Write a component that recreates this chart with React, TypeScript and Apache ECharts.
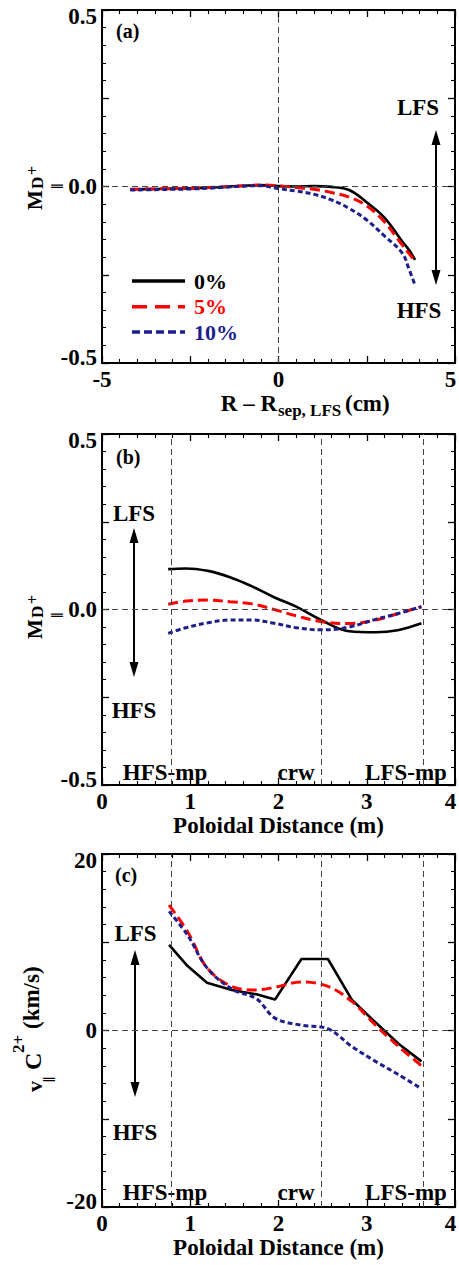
import React, { useEffect, useRef } from 'react';
import * as echarts from 'echarts';

// ---------- data ----------
// panel (a): M|| of D+ vs R - Rsep,LFS (cm)
const aX = [-4.2, -3.5, -3, -2.5, -2, -1.5, -1, -0.5, 0, 0.5, 1, 1.5, 2, 2.5, 3, 3.5, 3.7, 3.87];
const a0 = [-0.008, -0.007, -0.006, -0.005, -0.003, -0.001, 0.002, 0.004, 0.001, 0.0, 0.001, -0.001, -0.01, -0.045, -0.088, -0.155, -0.18, -0.208];
const a5 = [-0.008, -0.007, -0.006, -0.005, -0.003, -0.001, 0.002, 0.004, 0.002, -0.003, -0.008, -0.017, -0.03, -0.055, -0.1, -0.165, -0.19, -0.212];
const a10 = [-0.01, -0.009, -0.008, -0.007, -0.005, -0.002, 0.001, 0.002, -0.006, -0.013, -0.022, -0.038, -0.062, -0.095, -0.14, -0.188, -0.235, -0.28];

// panel (b): M|| of D+ vs poloidal distance (m)
const bX = [0.75, 0.95, 1.2, 1.45, 1.7, 1.95, 2.2, 2.5, 2.8, 3.1, 3.35, 3.62];
const b0 = [0.115, 0.117, 0.11, 0.092, 0.066, 0.035, 0.008, -0.032, -0.062, -0.065, -0.059, -0.039];
const b5 = [0.015, 0.024, 0.027, 0.022, 0.016, 0.0, -0.018, -0.035, -0.04, -0.03, -0.012, 0.008];
const b10 = [-0.068, -0.052, -0.038, -0.03, -0.03, -0.039, -0.052, -0.058, -0.05, -0.028, -0.012, 0.008];

// panel (c): v|| of C2+ (km/s) vs poloidal distance (m)
const cX = [0.76, 0.97, 1.19, 1.47, 1.75, 1.96, 2.26, 2.56, 2.83, 3.1, 3.36, 3.62];
const c0 = [9.7, 7.3, 5.4, 4.6, 4.1, 3.5, 8.1, 8.1, 3.5, 0.9, -1.5, -3.5];
const c5 = [14.2, 11.2, 7.1, 5.0, 4.6, 4.9, 5.5, 5.0, 3.3, 0.6, -1.8, -4.0];
const c10 = [13.5, 10.8, 7.1, 4.7, 3.6, 1.4, 0.6, 0.2, -1.8, -3.5, -5.0, -6.6];

// reference positions along the poloidal distance
const refX = [0.79, 2.49, 3.64];
const refNames = ['HFS-mp', 'crw', 'LFS-mp'];
const legendNames = ['0%', '5%', '10%'];

// ---------- styling ----------
const FONT = 'Liberation Serif, Times New Roman, serif';
const BLACK = '#000000';
const RED = '#ff0000';
const NAVY = '#1e1e8a';
const COLORS = [BLACK, RED, NAVY];
const DASHES: any[] = ['solid', [10, 5], [5, 3]];
const WIDTHS = [2.6, 3, 3];

const pairs = (xs: number[], ys: number[]) => xs.map((x, i) => [x, ys[i]]);

const LS = {
  fontSize: 23,
  fontWeight: 'bold' as const,
  fontFamily: FONT,
  color: BLACK,
};

const edgeRich = {
  t: { ...LS, padding: [13, 0, 0, 0] },
  b: { ...LS, padding: [0, 0, 12, 0] },
  n: { ...LS },
};

const xRich = {
  r: { ...LS, padding: [0, 9, 0, 0] },
  n: { ...LS },
};

const tickCommon = (grid: number, min: number, max: number, interval: number) => ({
  type: 'value' as const,
  gridIndex: grid,
  min,
  max,
  interval,
  splitLine: { show: false },
  axisLine: { show: true, onZero: false, lineStyle: { color: BLACK, width: 2 } },
  axisTick: { show: true, inside: true, length: 7, lineStyle: { color: BLACK, width: 1.3 } },
  minorTick: { show: true, splitNumber: 5, length: 4, lineStyle: { color: BLACK, width: 1.1 } },
  minorSplitLine: { show: false },
});

function xAxes(grid: number, min: number, max: number, interval: number, fmt: (v: number) => string, name?: string) {
  const common = tickCommon(grid, min, max, interval);
  const wrap = (v: number) => {
    const s = fmt(v);
    if (!s) return '';
    return Math.abs(v - max) < 1e-9 ? '{r|' + s + '}' : '{n|' + s + '}';
  };
  return [
    {
      ...common,
      position: 'bottom',
      axisLabel: { ...LS, margin: 5, formatter: wrap, rich: xRich },
      name: name || '',
      nameLocation: 'middle',
      nameGap: 29,
      nameTextStyle: { ...LS },
    },
    { ...common, position: 'top', axisLabel: { show: false } },
  ];
}

function yAxes(grid: number, min: number, max: number, interval: number, fmt: (v: number) => string) {
  const common = tickCommon(grid, min, max, interval);
  const wrap = (v: number) => {
    const s = fmt(v);
    if (!s) return '';
    if (Math.abs(v - max) < 1e-9) return '{t|' + s + '}';
    if (Math.abs(v - min) < 1e-9) return '{b|' + s + '}';
    return '{n|' + s + '}';
  };
  return [
    { ...common, position: 'left', axisLabel: { ...LS, margin: 5, formatter: wrap, rich: edgeRich } },
    { ...common, position: 'right', axisLabel: { show: false } },
  ];
}

const refLineStyle = { type: [6, 4] as number[], color: '#444', width: 1 };

function seriesFor(panel: number, xs: number[], ys: number[][], refs: any[], smoothFlags: (number | boolean)[]) {
  return ys.map((y, i) => ({
    type: 'line',
    xAxisIndex: panel * 2,
    yAxisIndex: panel * 2,
    data: pairs(xs, y),
    showSymbol: false,
    symbol: 'none',
    smooth: smoothFlags[i],
    lineStyle: { color: COLORS[i], width: WIDTHS[i], type: DASHES[i] },
    itemStyle: { color: COLORS[i] },
    emphasis: { disabled: true },
    z: 3 + i,
    markLine:
      i === 0
        ? {
            silent: true,
            symbol: ['none', 'none'],
            label: { show: false },
            lineStyle: refLineStyle,
            emphasis: { disabled: true },
            data: refs,
          }
        : undefined,
  }));
}

function txt(text: string, x: number, y: number, fontSize: number, color = BLACK, align = 'center', extra: any = {}) {
  return {
    type: 'text',
    x,
    y,
    silent: true,
    style: {
      text,
      fontSize,
      fontWeight: 'bold',
      fontFamily: FONT,
      fill: color,
      align,
      verticalAlign: 'middle',
      ...extra,
    },
  };
}

function arrow(x: number, yTop: number, yBot: number) {
  const head = 15;
  const hw = 4.5;
  return [
    { type: 'line', silent: true, shape: { x1: x, y1: yTop + head - 1, x2: x, y2: yBot - head + 1 }, style: { stroke: BLACK, lineWidth: 2 } },
    { type: 'polygon', silent: true, shape: { points: [[x, yTop], [x - hw, yTop + head], [x + hw, yTop + head]] }, style: { fill: BLACK } },
    { type: 'polygon', silent: true, shape: { points: [[x, yBot], [x - hw, yBot - head], [x + hw, yBot - head]] }, style: { fill: BLACK } },
  ];
}

// y-axis title "M‖^D+" (rotated), origin = start of M on its centre line
function mTitle(x: number, y: number) {
  return {
    type: 'group',
    x,
    y,
    rotation: Math.PI / 2,
    silent: true,
    children: [
      txt('M', 0, 0, 21, BLACK, 'left'),
      txt('D', 21, 2, 17, BLACK, 'left'),
      txt('‖', 21, 22, 17, BLACK, 'left'),
      txt('+', 35, -3, 16, BLACK, 'left'),
    ],
  };
}

function vTitle(x: number, y: number) {
  return {
    type: 'group',
    x,
    y,
    rotation: Math.PI / 2,
    silent: true,
    children: [
      txt('v', 0, 0, 22, BLACK, 'left'),
      txt('‖', 10, 15, 16, BLACK, 'left'),
      txt('C', 22, -2, 24, BLACK, 'left'),
      txt('2+', 39, -16, 17, BLACK, 'left'),
      txt('(km/s)', 63, -3, 23, BLACK, 'left'),
    ],
  };
}

const fmtA_x = (v: number) => (Math.abs(v % 5) < 1e-9 ? String(Math.round(v)) : '');
const fmtHalf = (v: number) => (Math.abs(v * 2 - Math.round(v * 2)) < 1e-9 ? v.toFixed(1) : '');
const fmtInt = (v: number) => String(Math.round(v));
const fmtC_y = (v: number) => (Math.abs(v % 20) < 1e-9 ? String(Math.round(v)) : '');

export default function App() {
  const ref = useRef<HTMLDivElement>(null);

  useEffect(() => {
    document.body.style.margin = '0';
    document.body.style.overflow = 'hidden';
    if (!ref.current) return;
    const chart = echarts.init(ref.current, undefined, { renderer: 'svg' });

    const legendY = [281, 306.7, 332];
    const legendGraphics: any[] = [];
    legendNames.forEach((n, i) => {
      legendGraphics.push({
        type: 'line',
        silent: true,
        shape: { x1: 132, y1: legendY[i], x2: 185, y2: legendY[i] },
        style: { stroke: COLORS[i], lineWidth: 3.5, lineDash: i === 0 ? null : i === 1 ? [15, 8] : [8, 4] },
      });
      legendGraphics.push(txt(n, 194, legendY[i], 22, COLORS[i], 'left'));
    });

    const refLabels = (yMid: number) => [
      txt(refNames[0], 165, yMid, 23),
      txt(refNames[1], 296, yMid, 23),
      txt(refNames[2], 406, yMid, 23),
    ];

    const option: any = {
      animation: false,
      backgroundColor: '#ffffff',
      grid: [
        { left: 102, top: 10, width: 353, height: 353, outerBoundsMode: 'none', containLabel: false },
        { left: 102, top: 434, width: 353, height: 351, outerBoundsMode: 'none', containLabel: false },
        { left: 102, top: 854, width: 353, height: 353, outerBoundsMode: 'none', containLabel: false },
      ],
      xAxis: [
        ...xAxes(0, -5, 5, 2.5, fmtA_x),
        ...xAxes(1, 0, 4, 1, fmtInt, 'Poloidal Distance (m)'),
        ...xAxes(2, 0, 4, 1, fmtInt, 'Poloidal Distance (m)'),
      ],
      yAxis: [
        ...yAxes(0, -0.5, 0.5, 0.25, fmtHalf),
        ...yAxes(1, -0.5, 0.5, 0.25, fmtHalf),
        ...yAxes(2, -20, 20, 10, fmtC_y),
      ],
      series: [
        ...seriesFor(0, aX, [a0, a5, a10], [{ xAxis: 0 }, { yAxis: 0 }], [0.4, 0.4, 0.4]),
        ...seriesFor(1, bX, [b0, b5, b10], [...refX.map((x) => ({ xAxis: x })), { yAxis: 0 }], [0.4, 0.4, 0.4]),
        ...seriesFor(2, cX, [c0, c5, c10], [...refX.map((x) => ({ xAxis: x })), { yAxis: 0 }], [false, 0.35, 0.35]),
      ],
      graphic: [
        // panel labels
        txt('(a)', 116, 31, 20, BLACK, 'left'),
        txt('(b)', 116, 456.5, 20, BLACK, 'left'),
        txt('(c)', 115, 874.5, 20, BLACK, 'left'),
        // panel (a) annotations
        ...arrow(436, 130, 285),
        txt('LFS', 418, 107, 23),
        txt('HFS', 419, 310, 23),
        ...legendGraphics,
        // x-axis title of panel (a): R – R_sep, LFS (cm)
        txt('R – R', 277, 403, 23, BLACK, 'right'),
        txt('sep, LFS', 278, 410, 17, BLACK, 'left'),
        txt('(cm)', 345, 403, 23, BLACK, 'left'),
        mTitle(35, 210),
        // panel (b) annotations
        ...arrow(134, 528, 677),
        txt('LFS', 134, 513, 23),
        txt('HFS', 134, 710, 23),
        ...refLabels(772.5),
        mTitle(35, 639),
        // panel (c) annotations
        ...arrow(135, 950, 1097),
        txt('LFS', 135.5, 933, 23),
        txt('HFS', 135, 1132, 23),
        ...refLabels(1192.5),
        vTitle(34.5, 1092),
      ],
    };

    chart.setOption(option);
    return () => {
      chart.dispose();
    };
  }, []);

  return <div ref={ref} style={{ width: 459, height: 1265 }} />;
}
